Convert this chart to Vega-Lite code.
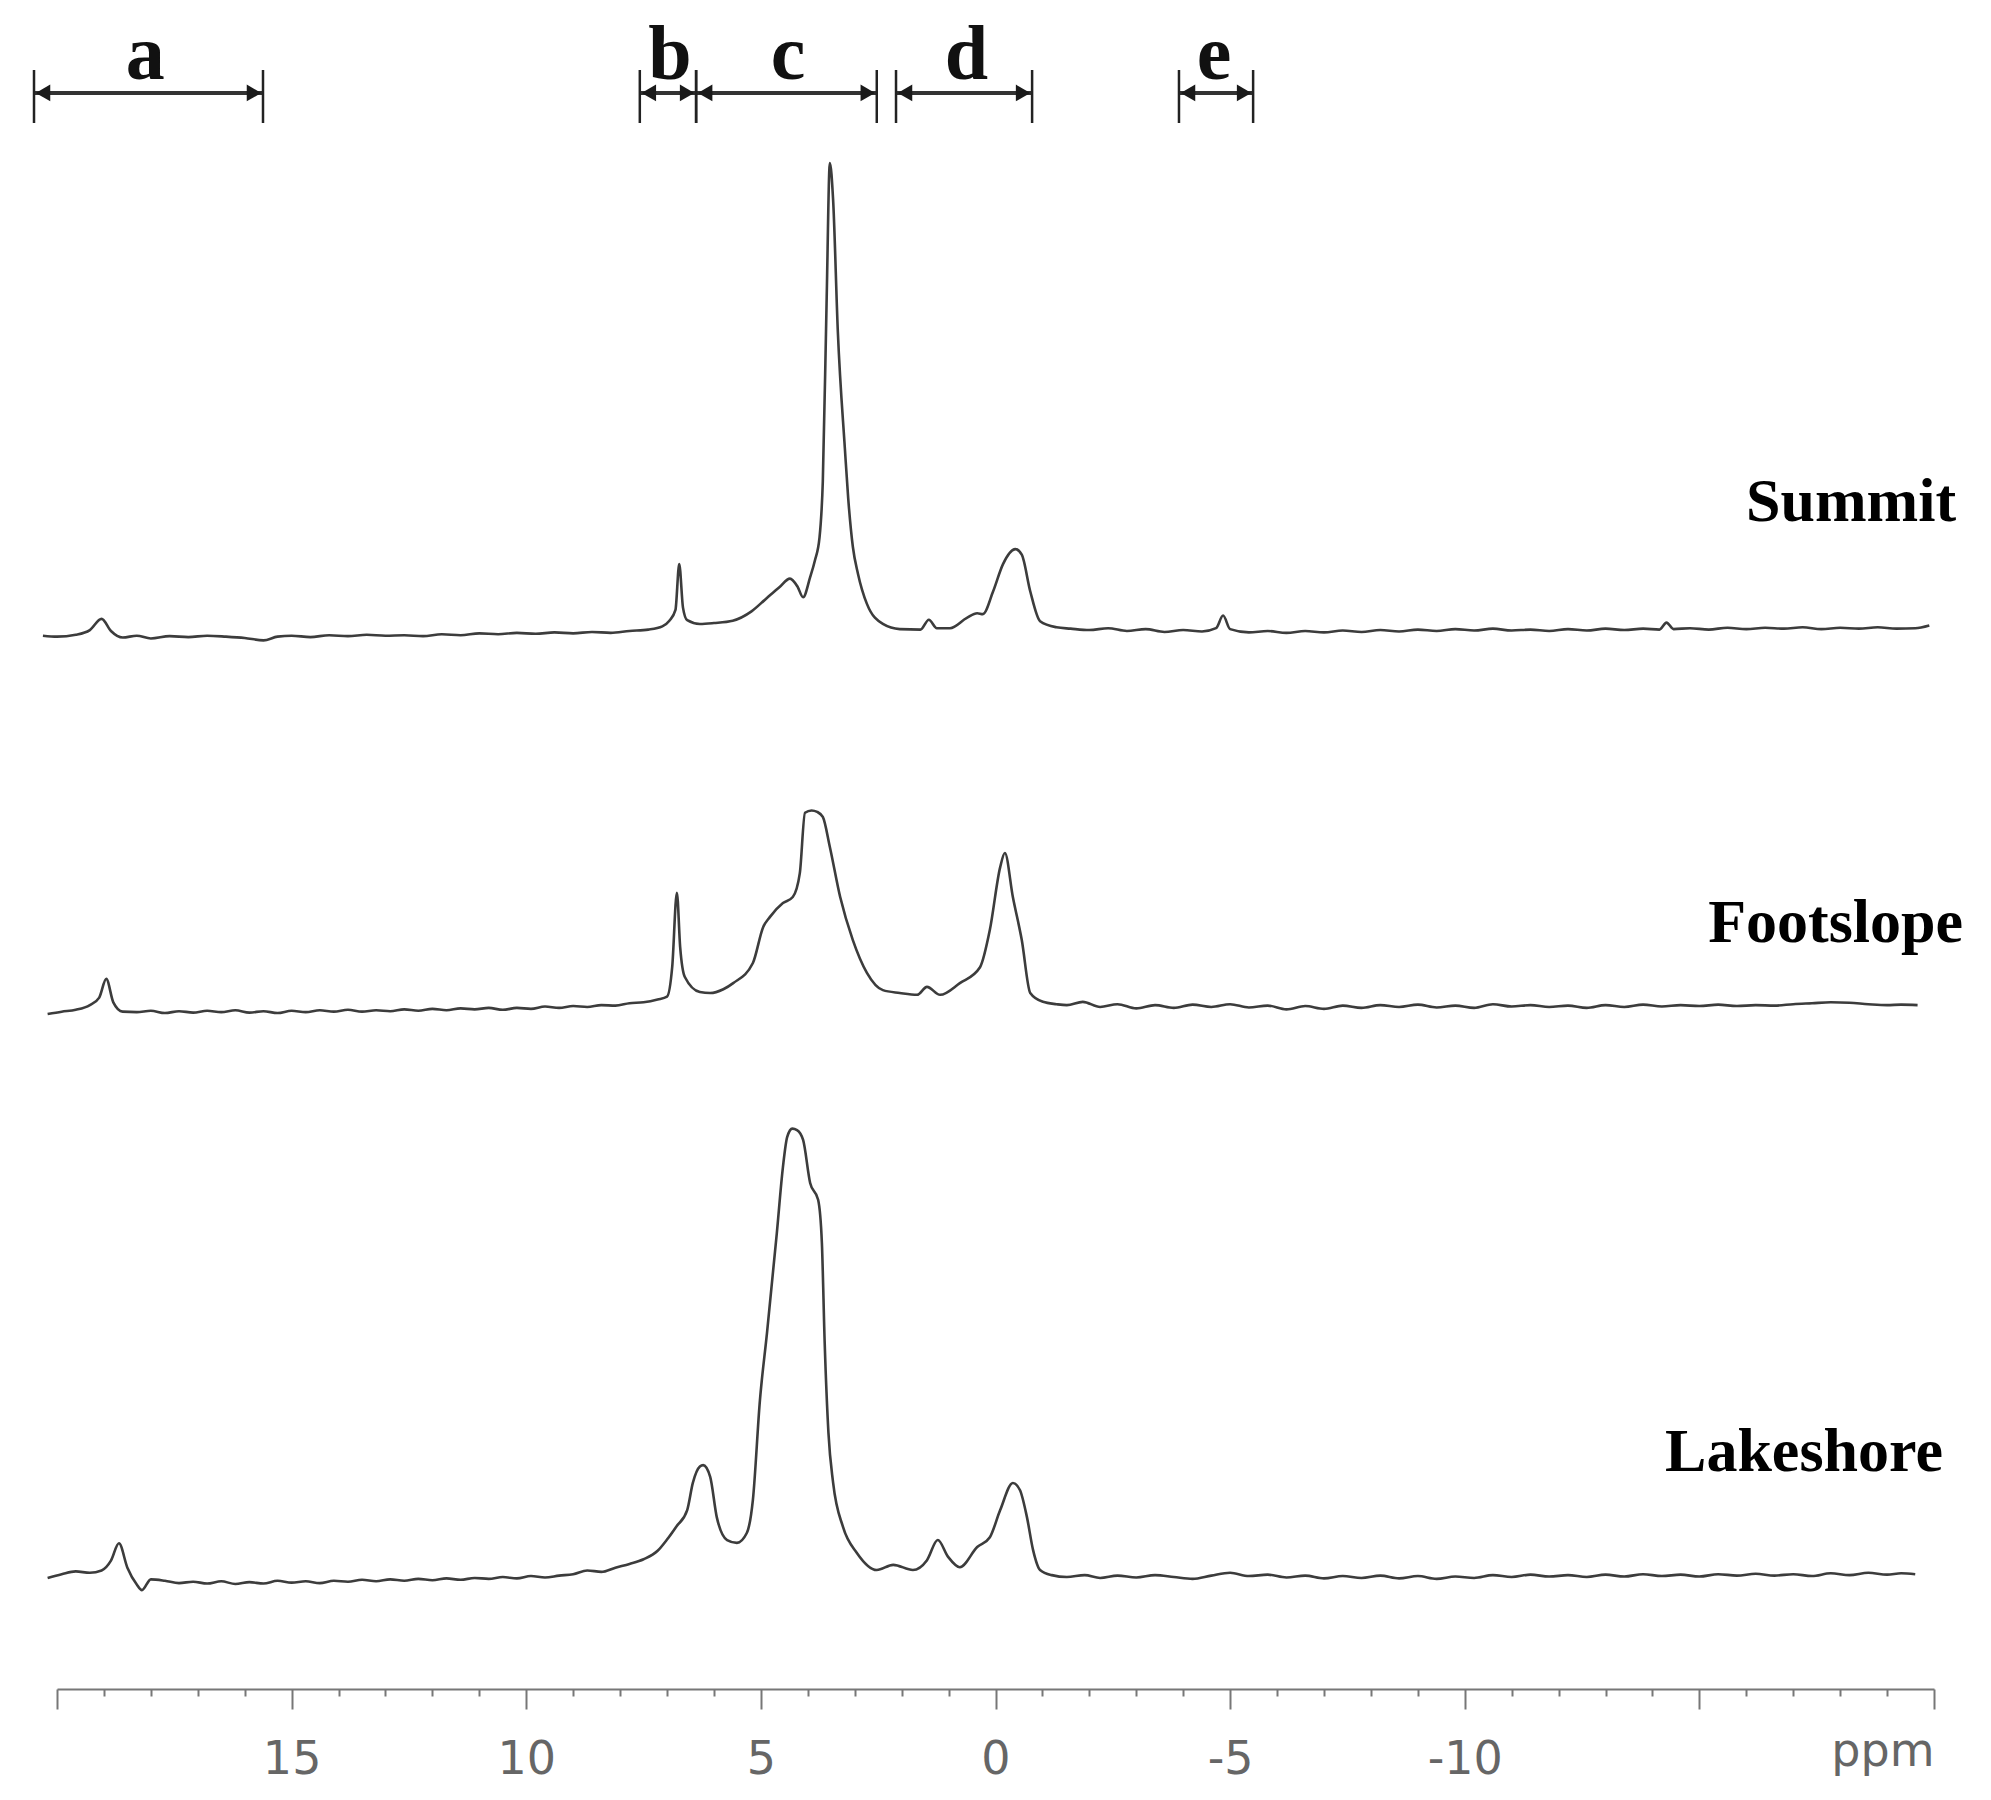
{
  "$schema": "https://vega.github.io/schema/vega-lite/v6.json",
  "width": 1877,
  "height": 1689,
  "autosize": {"type": "none"},
  "padding": {"left": 57, "right": 57, "top": 0, "bottom": 111},
  "background": "white",
  "config": {"view": {"stroke": null}},
  "datasets": {
    "summit": [
      {"ppm":20.3,"intensity":-1.0},{"ppm":20.0,"intensity":-1.2},{"ppm":19.6,"intensity":-0.8},{"ppm":19.3,"intensity":0.2},{"ppm":19.05,"intensity":2.6},{"ppm":18.85,"intensity":0.0},{"ppm":18.6,"intensity":-1.4},{"ppm":18.3,"intensity":-1.0},{"ppm":18.0,"intensity":-1.6},{"ppm":17.6,"intensity":-1.1},{"ppm":17.2,"intensity":-1.3},{"ppm":16.8,"intensity":-1.0},{"ppm":16.4,"intensity":-1.2},{"ppm":16.0,"intensity":-1.5},{"ppm":15.6,"intensity":-2.0},{"ppm":15.3,"intensity":-1.2},{"ppm":15.0,"intensity":-1.0},{"ppm":14.6,"intensity":-1.3},{"ppm":14.2,"intensity":-0.9},{"ppm":13.8,"intensity":-1.1},{"ppm":13.4,"intensity":-0.8},{"ppm":13.0,"intensity":-1.0},{"ppm":12.6,"intensity":-0.9},{"ppm":12.2,"intensity":-1.1},{"ppm":11.8,"intensity":-0.7},{"ppm":11.4,"intensity":-0.9},{"ppm":11.0,"intensity":-0.5},{"ppm":10.6,"intensity":-0.7},{"ppm":10.2,"intensity":-0.4},{"ppm":9.8,"intensity":-0.6},{"ppm":9.4,"intensity":-0.3},{"ppm":9.0,"intensity":-0.5},{"ppm":8.6,"intensity":-0.2},{"ppm":8.2,"intensity":-0.4},{"ppm":7.8,"intensity":0.0},{"ppm":7.4,"intensity":0.3},{"ppm":7.1,"intensity":1.0},{"ppm":6.95,"intensity":2.2},{"ppm":6.82,"intensity":4.5},{"ppm":6.74,"intensity":14.3},{"ppm":6.66,"intensity":5.0},{"ppm":6.57,"intensity":2.3},{"ppm":6.3,"intensity":1.5},{"ppm":6.0,"intensity":1.7},{"ppm":5.6,"intensity":2.2},{"ppm":5.2,"intensity":4.2},{"ppm":4.9,"intensity":6.8},{"ppm":4.6,"intensity":9.4},{"ppm":4.38,"intensity":11.2},{"ppm":4.22,"intensity":9.5},{"ppm":4.1,"intensity":7.2},{"ppm":3.95,"intensity":11.5},{"ppm":3.85,"intensity":15.0},{"ppm":3.75,"intensity":20.0},{"ppm":3.68,"intensity":32.0},{"ppm":3.6,"intensity":70.0},{"ppm":3.53,"intensity":100.0},{"ppm":3.46,"intensity":92.0},{"ppm":3.36,"intensity":64.0},{"ppm":3.21,"intensity":39.0},{"ppm":3.14,"intensity":28.5},{"ppm":3.04,"intensity":18.0},{"ppm":2.93,"intensity":12.2},{"ppm":2.74,"intensity":5.8},{"ppm":2.4,"intensity":1.5},{"ppm":2.04,"intensity":0.4},{"ppm":1.6,"intensity":0.3},{"ppm":1.42,"intensity":2.4},{"ppm":1.25,"intensity":0.6},{"ppm":0.97,"intensity":0.6},{"ppm":0.61,"intensity":2.8},{"ppm":0.39,"intensity":3.8},{"ppm":0.27,"intensity":3.6},{"ppm":0.05,"intensity":8.5},{"ppm":-0.16,"intensity":14.3},{"ppm":-0.42,"intensity":17.5},{"ppm":-0.56,"intensity":16.3},{"ppm":-0.74,"intensity":8.5},{"ppm":-0.95,"intensity":2.1},{"ppm":-1.3,"intensity":0.8},{"ppm":-1.6,"intensity":0.5},{"ppm":-2.0,"intensity":0.2},{"ppm":-2.4,"intensity":0.6},{"ppm":-2.8,"intensity":0.0},{"ppm":-3.2,"intensity":0.4},{"ppm":-3.6,"intensity":-0.2},{"ppm":-4.0,"intensity":0.2},{"ppm":-4.4,"intensity":-0.1},{"ppm":-4.7,"intensity":0.6},{"ppm":-4.85,"intensity":3.3},{"ppm":-5.0,"intensity":0.4},{"ppm":-5.4,"intensity":-0.3},{"ppm":-5.8,"intensity":0.0},{"ppm":-6.2,"intensity":-0.4},{"ppm":-6.6,"intensity":0.0},{"ppm":-7.0,"intensity":-0.3},{"ppm":-7.4,"intensity":0.1},{"ppm":-7.8,"intensity":-0.2},{"ppm":-8.2,"intensity":0.2},{"ppm":-8.6,"intensity":-0.1},{"ppm":-9.0,"intensity":0.3},{"ppm":-9.4,"intensity":0.0},{"ppm":-9.8,"intensity":0.4},{"ppm":-10.2,"intensity":0.1},{"ppm":-10.6,"intensity":0.5},{"ppm":-11.0,"intensity":0.1},{"ppm":-11.4,"intensity":0.3},{"ppm":-11.8,"intensity":0.0},{"ppm":-12.2,"intensity":0.4},{"ppm":-12.6,"intensity":0.1},{"ppm":-13.0,"intensity":0.5},{"ppm":-13.4,"intensity":0.2},{"ppm":-13.8,"intensity":0.5},{"ppm":-14.15,"intensity":0.3},{"ppm":-14.3,"intensity":1.8},{"ppm":-14.45,"intensity":0.4},{"ppm":-14.8,"intensity":0.6},{"ppm":-15.2,"intensity":0.3},{"ppm":-15.6,"intensity":0.7},{"ppm":-16.0,"intensity":0.4},{"ppm":-16.4,"intensity":0.7},{"ppm":-16.8,"intensity":0.5},{"ppm":-17.2,"intensity":0.8},{"ppm":-17.6,"intensity":0.4},{"ppm":-18.0,"intensity":0.7},{"ppm":-18.4,"intensity":0.5},{"ppm":-18.8,"intensity":0.8},{"ppm":-19.2,"intensity":0.5},{"ppm":-19.6,"intensity":0.6},{"ppm":-19.9,"intensity":1.2}
    ],
    "footslope": [
      {"ppm":20.2,"intensity":-1.5},{"ppm":19.9,"intensity":-1.0},{"ppm":19.6,"intensity":-0.6},{"ppm":19.3,"intensity":0.4},{"ppm":19.1,"intensity":2.0},{"ppm":18.95,"intensity":6.0},{"ppm":18.8,"intensity":1.0},{"ppm":18.6,"intensity":-1.0},{"ppm":18.3,"intensity":-1.1},{"ppm":18.0,"intensity":-0.8},{"ppm":17.7,"intensity":-1.3},{"ppm":17.4,"intensity":-0.9},{"ppm":17.1,"intensity":-1.2},{"ppm":16.8,"intensity":-0.8},{"ppm":16.5,"intensity":-1.1},{"ppm":16.2,"intensity":-0.7},{"ppm":15.9,"intensity":-1.2},{"ppm":15.6,"intensity":-0.9},{"ppm":15.3,"intensity":-1.3},{"ppm":15.0,"intensity":-0.8},{"ppm":14.7,"intensity":-1.1},{"ppm":14.4,"intensity":-0.7},{"ppm":14.1,"intensity":-1.0},{"ppm":13.8,"intensity":-0.6},{"ppm":13.5,"intensity":-1.0},{"ppm":13.2,"intensity":-0.7},{"ppm":12.9,"intensity":-0.9},{"ppm":12.6,"intensity":-0.5},{"ppm":12.3,"intensity":-0.8},{"ppm":12.0,"intensity":-0.4},{"ppm":11.7,"intensity":-0.7},{"ppm":11.4,"intensity":-0.3},{"ppm":11.1,"intensity":-0.5},{"ppm":10.8,"intensity":-0.2},{"ppm":10.5,"intensity":-0.6},{"ppm":10.2,"intensity":-0.2},{"ppm":9.9,"intensity":-0.4},{"ppm":9.6,"intensity":0.1},{"ppm":9.3,"intensity":-0.2},{"ppm":9.0,"intensity":0.2},{"ppm":8.7,"intensity":0.0},{"ppm":8.4,"intensity":0.4},{"ppm":8.1,"intensity":0.3},{"ppm":7.8,"intensity":0.8},{"ppm":7.5,"intensity":1.0},{"ppm":7.2,"intensity":1.6},{"ppm":7.0,"intensity":2.2},{"ppm":6.89,"intensity":8.5},{"ppm":6.79,"intensity":24.4},{"ppm":6.72,"intensity":12.8},{"ppm":6.62,"intensity":6.4},{"ppm":6.3,"intensity":3.2},{"ppm":6.08,"intensity":3.0},{"ppm":5.8,"intensity":3.8},{"ppm":5.59,"intensity":5.1},{"ppm":5.17,"intensity":9.4},{"ppm":4.95,"intensity":17.1},{"ppm":4.81,"intensity":19.2},{"ppm":4.53,"intensity":22.2},{"ppm":4.32,"intensity":23.5},{"ppm":4.17,"intensity":28.6},{"ppm":4.06,"intensity":41.5},{"ppm":3.92,"intensity":42.0},{"ppm":3.8,"intensity":41.7},{"ppm":3.68,"intensity":40.6},{"ppm":3.53,"intensity":34.2},{"ppm":3.31,"intensity":23.5},{"ppm":3.04,"intensity":14.3},{"ppm":2.74,"intensity":7.3},{"ppm":2.4,"intensity":3.6},{"ppm":2.04,"intensity":3.0},{"ppm":1.67,"intensity":2.6},{"ppm":1.46,"intensity":4.3},{"ppm":1.18,"intensity":2.6},{"ppm":0.76,"intensity":5.1},{"ppm":0.33,"intensity":8.5},{"ppm":0.12,"intensity":16.5},{"ppm":-0.1,"intensity":29.9},{"ppm":-0.2,"intensity":32.9},{"ppm":-0.37,"intensity":23.5},{"ppm":-0.56,"intensity":14.3},{"ppm":-0.74,"intensity":3.0},{"ppm":-1.01,"intensity":1.1},{"ppm":-1.3,"intensity":0.6},{"ppm":-1.52,"intensity":0.4},{"ppm":-1.86,"intensity":1.1},{"ppm":-2.23,"intensity":0.0},{"ppm":-2.6,"intensity":0.6},{"ppm":-3.0,"intensity":-0.3},{"ppm":-3.4,"intensity":0.4},{"ppm":-3.8,"intensity":-0.2},{"ppm":-4.2,"intensity":0.5},{"ppm":-4.6,"intensity":0.0},{"ppm":-5.0,"intensity":0.6},{"ppm":-5.4,"intensity":-0.1},{"ppm":-5.8,"intensity":0.3},{"ppm":-6.2,"intensity":-0.5},{"ppm":-6.6,"intensity":0.2},{"ppm":-7.0,"intensity":-0.4},{"ppm":-7.4,"intensity":0.3},{"ppm":-7.8,"intensity":-0.2},{"ppm":-8.2,"intensity":0.4},{"ppm":-8.6,"intensity":0.0},{"ppm":-9.0,"intensity":0.5},{"ppm":-9.4,"intensity":-0.1},{"ppm":-9.8,"intensity":0.3},{"ppm":-10.2,"intensity":-0.2},{"ppm":-10.6,"intensity":0.6},{"ppm":-11.0,"intensity":0.1},{"ppm":-11.4,"intensity":0.4},{"ppm":-11.8,"intensity":0.0},{"ppm":-12.2,"intensity":0.3},{"ppm":-12.6,"intensity":-0.2},{"ppm":-13.0,"intensity":0.4},{"ppm":-13.4,"intensity":0.0},{"ppm":-13.8,"intensity":0.5},{"ppm":-14.2,"intensity":0.1},{"ppm":-14.6,"intensity":0.4},{"ppm":-15.0,"intensity":0.2},{"ppm":-15.4,"intensity":0.5},{"ppm":-15.8,"intensity":0.2},{"ppm":-16.2,"intensity":0.4},{"ppm":-16.6,"intensity":0.3},{"ppm":-17.0,"intensity":0.6},{"ppm":-17.4,"intensity":0.8},{"ppm":-17.8,"intensity":1.0},{"ppm":-18.2,"intensity":0.9},{"ppm":-18.6,"intensity":0.6},{"ppm":-19.0,"intensity":0.4},{"ppm":-19.3,"intensity":0.5},{"ppm":-19.65,"intensity":0.4}
    ],
    "lakeshore": [
      {"ppm":20.2,"intensity":-0.2},{"ppm":19.9,"intensity":0.6},{"ppm":19.6,"intensity":1.2},{"ppm":19.3,"intensity":0.9},{"ppm":19.05,"intensity":1.4},{"ppm":18.85,"intensity":3.5},{"ppm":18.68,"intensity":7.2},{"ppm":18.5,"intensity":2.0},{"ppm":18.3,"intensity":-1.6},{"ppm":18.19,"intensity":-2.8},{"ppm":18.0,"intensity":-0.5},{"ppm":17.7,"intensity":-0.8},{"ppm":17.4,"intensity":-1.3},{"ppm":17.1,"intensity":-1.0},{"ppm":16.8,"intensity":-1.4},{"ppm":16.5,"intensity":-0.9},{"ppm":16.2,"intensity":-1.5},{"ppm":15.9,"intensity":-1.1},{"ppm":15.6,"intensity":-1.4},{"ppm":15.3,"intensity":-0.8},{"ppm":15.0,"intensity":-1.2},{"ppm":14.7,"intensity":-0.9},{"ppm":14.4,"intensity":-1.3},{"ppm":14.1,"intensity":-0.8},{"ppm":13.8,"intensity":-1.0},{"ppm":13.5,"intensity":-0.6},{"ppm":13.2,"intensity":-0.9},{"ppm":12.9,"intensity":-0.5},{"ppm":12.6,"intensity":-0.8},{"ppm":12.3,"intensity":-0.4},{"ppm":12.0,"intensity":-0.7},{"ppm":11.7,"intensity":-0.3},{"ppm":11.4,"intensity":-0.6},{"ppm":11.1,"intensity":-0.2},{"ppm":10.8,"intensity":-0.4},{"ppm":10.5,"intensity":0.0},{"ppm":10.2,"intensity":-0.3},{"ppm":9.9,"intensity":0.2},{"ppm":9.6,"intensity":-0.1},{"ppm":9.3,"intensity":0.3},{"ppm":9.0,"intensity":0.6},{"ppm":8.7,"intensity":1.4},{"ppm":8.4,"intensity":1.1},{"ppm":8.1,"intensity":2.0},{"ppm":7.8,"intensity":2.8},{"ppm":7.5,"intensity":3.8},{"ppm":7.2,"intensity":5.6},{"ppm":7.0,"intensity":8.0},{"ppm":6.8,"intensity":10.8},{"ppm":6.57,"intensity":14.3},{"ppm":6.45,"intensity":20.1},{"ppm":6.3,"intensity":23.6},{"ppm":6.23,"intensity":23.9},{"ppm":6.08,"intensity":21.4},{"ppm":5.94,"intensity":12.8},{"ppm":5.72,"intensity":7.9},{"ppm":5.51,"intensity":7.3},{"ppm":5.3,"intensity":9.4},{"ppm":5.17,"intensity":16.5},{"ppm":5.02,"intensity":37.8},{"ppm":4.87,"intensity":52.1},{"ppm":4.66,"intensity":73.5},{"ppm":4.53,"intensity":87.6},{"ppm":4.44,"intensity":94.0},{"ppm":4.33,"intensity":95.8},{"ppm":4.23,"intensity":95.5},{"ppm":4.1,"intensity":93.4},{"ppm":3.95,"intensity":84.2},{"ppm":3.78,"intensity":80.6},{"ppm":3.7,"intensity":71.4},{"ppm":3.64,"intensity":50.0},{"ppm":3.56,"intensity":30.8},{"ppm":3.46,"intensity":20.1},{"ppm":3.25,"intensity":10.7},{"ppm":2.95,"intensity":5.1},{"ppm":2.53,"intensity":1.5},{"ppm":2.18,"intensity":2.6},{"ppm":1.76,"intensity":1.5},{"ppm":1.46,"intensity":3.6},{"ppm":1.23,"intensity":7.9},{"ppm":1.01,"intensity":4.3},{"ppm":0.76,"intensity":2.1},{"ppm":0.39,"intensity":6.4},{"ppm":0.12,"intensity":8.5},{"ppm":-0.1,"intensity":14.3},{"ppm":-0.37,"intensity":20.1},{"ppm":-0.52,"intensity":18.6},{"ppm":-0.67,"intensity":12.8},{"ppm":-0.8,"intensity":5.8},{"ppm":-0.95,"intensity":1.5},{"ppm":-1.2,"intensity":0.4},{"ppm":-1.52,"intensity":0.0},{"ppm":-1.9,"intensity":0.4},{"ppm":-2.23,"intensity":-0.2},{"ppm":-2.6,"intensity":0.3},{"ppm":-3.0,"intensity":-0.1},{"ppm":-3.4,"intensity":0.4},{"ppm":-3.8,"intensity":0.0},{"ppm":-4.2,"intensity":-0.4},{"ppm":-4.6,"intensity":0.3},{"ppm":-5.0,"intensity":0.9},{"ppm":-5.4,"intensity":0.2},{"ppm":-5.8,"intensity":0.5},{"ppm":-6.2,"intensity":-0.1},{"ppm":-6.6,"intensity":0.3},{"ppm":-7.0,"intensity":-0.3},{"ppm":-7.4,"intensity":0.2},{"ppm":-7.8,"intensity":-0.2},{"ppm":-8.2,"intensity":0.3},{"ppm":-8.6,"intensity":-0.3},{"ppm":-9.0,"intensity":0.2},{"ppm":-9.4,"intensity":-0.4},{"ppm":-9.8,"intensity":0.1},{"ppm":-10.2,"intensity":-0.2},{"ppm":-10.6,"intensity":0.4},{"ppm":-11.0,"intensity":0.0},{"ppm":-11.4,"intensity":0.5},{"ppm":-11.8,"intensity":0.1},{"ppm":-12.2,"intensity":0.4},{"ppm":-12.6,"intensity":0.0},{"ppm":-13.0,"intensity":0.5},{"ppm":-13.4,"intensity":0.1},{"ppm":-13.8,"intensity":0.6},{"ppm":-14.2,"intensity":0.2},{"ppm":-14.6,"intensity":0.5},{"ppm":-15.0,"intensity":0.1},{"ppm":-15.4,"intensity":0.6},{"ppm":-15.8,"intensity":0.3},{"ppm":-16.2,"intensity":0.7},{"ppm":-16.6,"intensity":0.3},{"ppm":-17.0,"intensity":0.6},{"ppm":-17.4,"intensity":0.2},{"ppm":-17.8,"intensity":0.8},{"ppm":-18.2,"intensity":0.4},{"ppm":-18.6,"intensity":0.9},{"ppm":-19.0,"intensity":0.5},{"ppm":-19.3,"intensity":0.8},{"ppm":-19.6,"intensity":0.6}
    ],
    "regions": [
      {"region":"a","from":20.49,"to":15.61,"center":18.12},
      {"region":"b","from":7.58,"to":6.38,"center":6.94},
      {"region":"c","from":6.38,"to":2.53,"center":4.42},
      {"region":"d","from":2.12,"to":-0.78,"center":0.62},
      {"region":"e","from":-3.91,"to":-5.49,"center":-4.66}
    ]
  },
  "resolve": {"scale": {"y": "independent"}},
  "layer": [
    {
      "layer": [
        {
          "data": {"name": "summit"},
          "mark": {"type": "line", "stroke": "#3c3c3c", "strokeWidth": 2.6, "interpolate": "monotone"},
          "encoding": {
            "x": {
              "field": "ppm", "type": "quantitative",
              "scale": {"domain": [-20, 20], "reverse": true, "nice": false, "zero": false},
              "axis": {
                "orient": "bottom",
                "title": null,
                "grid": false,
                "values": [20,19,18,17,16,15,14,13,12,11,10,9,8,7,6,5,4,3,2,1,0,-1,-2,-3,-4,-5,-6,-7,-8,-9,-10,-11,-12,-13,-14,-15,-16,-17,-18,-19,-20],
                "domainColor": "#777777",
                "domainWidth": 2,
                "tickColor": "#777777",
                "tickWidth": 2,
                "tickSize": {"condition": {"test": "datum.value % 5 == 0", "value": 20}, "value": 7},
                "labelExpr": "datum.value == -20 ? 'ppm' : ((datum.value % 5 == 0 && datum.value <= 15 && datum.value >= -10) ? '' + datum.value : '')",
                "labelAlign": {"condition": {"test": "datum.value == -20", "value": "right"}, "value": "center"},
                "labelPadding": {"condition": {"test": "datum.value == -20", "value": 20}, "value": 28},
                "labelFont": "DejaVu Sans",
                "labelFontSize": 46,
                "labelColor": "#666666",
                "labelOverlap": false,
                "labelBound": false,
                "labelFlush": false
              }
            },
            "y": {"field": "intensity", "type": "quantitative", "scale": {"domain": [-226.07, 134.83], "nice": false, "zero": false}, "axis": null}
          }
        },
        {
          "data": {"name": "regions"},
          "mark": {"type": "rule", "stroke": "#333333", "strokeWidth": 4},
          "encoding": {
            "x": {"field": "from", "type": "quantitative", "scale": {"domain": [-20, 20], "reverse": true, "nice": false, "zero": false}},
            "x2": {"field": "to"},
            "y": {"datum": 114.96, "type": "quantitative", "scale": {"domain": [-226.07, 134.83], "nice": false, "zero": false}, "axis": null}
          }
        },
        {
          "data": {"name": "regions"},
          "mark": {"type": "rule", "stroke": "#222222", "strokeWidth": 2.5},
          "encoding": {
            "x": {"field": "from", "type": "quantitative", "scale": {"domain": [-20, 20], "reverse": true, "nice": false, "zero": false}},
            "y": {"datum": 119.87, "type": "quantitative", "scale": {"domain": [-226.07, 134.83], "nice": false, "zero": false}, "axis": null},
            "y2": {"datum": 108.55}
          }
        },
        {
          "data": {"name": "regions"},
          "mark": {"type": "rule", "stroke": "#222222", "strokeWidth": 2.5},
          "encoding": {
            "x": {"field": "to", "type": "quantitative", "scale": {"domain": [-20, 20], "reverse": true, "nice": false, "zero": false}},
            "y": {"datum": 119.87, "type": "quantitative", "scale": {"domain": [-226.07, 134.83], "nice": false, "zero": false}, "axis": null},
            "y2": {"datum": 108.55}
          }
        },
        {
          "data": {"name": "regions"},
          "mark": {"type": "point", "shape": "triangle-left", "filled": true, "size": 280, "color": "#1a1a1a", "opacity": 1, "xOffset": 9},
          "encoding": {
            "x": {"field": "from", "type": "quantitative", "scale": {"domain": [-20, 20], "reverse": true, "nice": false, "zero": false}},
            "y": {"datum": 114.96, "type": "quantitative", "scale": {"domain": [-226.07, 134.83], "nice": false, "zero": false}, "axis": null}
          }
        },
        {
          "data": {"name": "regions"},
          "mark": {"type": "point", "shape": "triangle-right", "filled": true, "size": 280, "color": "#1a1a1a", "opacity": 1, "xOffset": -9},
          "encoding": {
            "x": {"field": "to", "type": "quantitative", "scale": {"domain": [-20, 20], "reverse": true, "nice": false, "zero": false}},
            "y": {"datum": 114.96, "type": "quantitative", "scale": {"domain": [-226.07, 134.83], "nice": false, "zero": false}, "axis": null}
          }
        },
        {
          "data": {"name": "regions"},
          "mark": {"type": "text", "font": "Liberation Serif", "fontWeight": "bold", "fontSize": 78, "align": "center", "baseline": "alphabetic", "color": "#111111"},
          "encoding": {
            "x": {"field": "center", "type": "quantitative", "scale": {"domain": [-20, 20], "reverse": true, "nice": false, "zero": false}},
            "y": {"datum": 117.95, "type": "quantitative", "scale": {"domain": [-226.07, 134.83], "nice": false, "zero": false}, "axis": null},
            "text": {"field": "region"}
          }
        },
        {
          "data": {"values": [{"sample": "Summit"}]},
          "mark": {"type": "text", "font": "Liberation Serif", "fontWeight": "bold", "fontSize": 62, "align": "right", "baseline": "alphabetic", "color": "#000000"},
          "encoding": {
            "x": {"datum": -20.47, "type": "quantitative", "scale": {"domain": [-20, 20], "reverse": true, "nice": false, "zero": false}},
            "y": {"datum": 23.5, "type": "quantitative", "scale": {"domain": [-226.07, 134.83], "nice": false, "zero": false}, "axis": null},
            "text": {"field": "sample"}
          }
        }
      ]
    },
    {
      "layer": [
        {
          "data": {"name": "footslope"},
          "mark": {"type": "line", "stroke": "#3c3c3c", "strokeWidth": 2.6, "interpolate": "monotone"},
          "encoding": {
            "x": {"field": "ppm", "type": "quantitative", "scale": {"domain": [-20, 20], "reverse": true, "nice": false, "zero": false}},
            "y": {"field": "intensity", "type": "quantitative", "scale": {"domain": [-145.73, 215.17], "nice": false, "zero": false}, "axis": null}
          }
        },
        {
          "data": {"values": [{"sample": "Footslope"}]},
          "mark": {"type": "text", "font": "Liberation Serif", "fontWeight": "bold", "fontSize": 62, "align": "right", "baseline": "alphabetic", "color": "#000000"},
          "encoding": {
            "x": {"datum": -20.62, "type": "quantitative", "scale": {"domain": [-20, 20], "reverse": true, "nice": false, "zero": false}},
            "y": {"datum": 13.9, "type": "quantitative", "scale": {"domain": [-145.73, 215.17], "nice": false, "zero": false}, "axis": null},
            "text": {"field": "sample"}
          }
        }
      ]
    },
    {
      "layer": [
        {
          "data": {"name": "lakeshore"},
          "mark": {"type": "line", "stroke": "#3c3c3c", "strokeWidth": 2.6, "interpolate": "monotone"},
          "encoding": {
            "x": {"field": "ppm", "type": "quantitative", "scale": {"domain": [-20, 20], "reverse": true, "nice": false, "zero": false}},
            "y": {"field": "intensity", "type": "quantitative", "scale": {"domain": [-23.93, 336.97], "nice": false, "zero": false}, "axis": null}
          }
        },
        {
          "data": {"values": [{"sample": "Lakeshore"}]},
          "mark": {"type": "text", "font": "Liberation Serif", "fontWeight": "bold", "fontSize": 62, "align": "right", "baseline": "alphabetic", "color": "#000000"},
          "encoding": {
            "x": {"datum": -20.19, "type": "quantitative", "scale": {"domain": [-20, 20], "reverse": true, "nice": false, "zero": false}},
            "y": {"datum": 22.6, "type": "quantitative", "scale": {"domain": [-23.93, 336.97], "nice": false, "zero": false}, "axis": null},
            "text": {"field": "sample"}
          }
        }
      ]
    }
  ]
}
